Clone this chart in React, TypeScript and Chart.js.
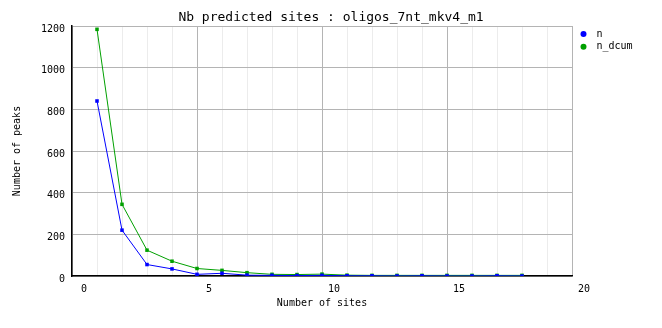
import React, { useEffect, useRef } from "react";
import { Chart, registerables } from "chart.js";

Chart.register(...registerables);

const sites = [1, 2, 3, 4, 5, 6, 7, 8, 9, 10, 11, 12, 13, 14, 15, 16, 17, 18];
const nValues = [840, 220, 55, 34, 8, 13, 4, 3, 2, 3, 1, 1, 0, 1, 0, 0, 1, 0];
const nDcumValues = [1184, 344, 124, 71, 36, 27, 16, 8, 7, 9, 4, 3, 3, 3, 3, 3, 3, 3];
const seriesNames = ["n", "n_dcum"];
const seriesColors = ["#0000ff", "#00a000"];
const titleText = "Nb predicted sites : oligos_7nt_mkv4_m1";
const xTitle = "Number of sites";
const yTitle = "Number of peaks";

const MONO = "'DejaVu Sans Mono', monospace";

export default function App() {
  const ref = useRef<HTMLCanvasElement | null>(null);

  useEffect(() => {
    document.body.style.margin = "0";
    const canvas = ref.current;
    if (!canvas) return;

    const overlayPlugin = {
      id: "overlay",
      afterDraw(chart: any) {
        const { ctx, chartArea, width } = chart;
        ctx.save();
        // title
        ctx.font = `13px ${MONO}`;
        ctx.fillStyle = "#000";
        ctx.textAlign = "center";
        ctx.textBaseline = "middle";
        ctx.fillText(titleText, width / 2, 18);
        // legend
        ctx.font = `10px ${MONO}`;
        ctx.textBaseline = "middle";
        ctx.textAlign = "left";
        seriesNames.forEach((name, i) => {
          const y = chartArea.top + 8 + i * 12.7;
          const x = chartArea.right + 11.5;
          ctx.fillStyle = seriesColors[i];
          ctx.beginPath();
          ctx.arc(x, y, 3, 0, Math.PI * 2);
          ctx.fill();
          ctx.fillStyle = "#000";
          ctx.fillText(name, x + 13, y);
        });
        ctx.restore();
      },
    };

    const chart = new Chart(canvas, {
      type: "line",
      data: {
        datasets: [
          {
            label: seriesNames[0],
            data: sites.map((x, i) => ({ x, y: nValues[i] })),
            borderColor: seriesColors[0],
            backgroundColor: seriesColors[0],
            borderWidth: 1,
            pointStyle: "rect",
            pointRadius: 2.5,
            pointBorderWidth: 0,
            tension: 0,
          },
          {
            label: seriesNames[1],
            data: sites.map((x, i) => ({ x, y: nDcumValues[i] })),
            borderColor: seriesColors[1],
            backgroundColor: seriesColors[1],
            borderWidth: 1,
            pointStyle: "rect",
            pointRadius: 2.5,
            pointBorderWidth: 0,
            tension: 0,
          },
        ],
      },
      options: {
        responsive: false,
        animation: false,
        layout: { padding: { left: 0, right: 90, top: 26, bottom: 0 } },
        plugins: {
          legend: { display: false },
          tooltip: { enabled: false },
          title: { display: false },
        },
        scales: {
          x: {
            type: "linear",
            min: 0,
            max: 20,
            afterFit(scale: any) {
              scale.height = 52;
            },
            ticks: {
              stepSize: 1,
              autoSkip: false,
              maxRotation: 0,
              color: "#000",
              font: { family: MONO, size: 10 },
              padding: 7,
              labelOffset: 12,
              callback: (v: any) => (Number(v) % 5 === 0 ? String(v) : ""),
            },
            grid: {
              drawTicks: false,
              color: (c: any) => (c.tick && c.tick.value % 5 === 0 ? "#b4b4b4" : "#ececec"),
              lineWidth: 1,
            },
            border: { color: "#000", width: 1.5 },
            title: {
              display: true,
              text: xTitle,
              color: "#000",
              font: { family: MONO, size: 10 },
              padding: { top: 0, bottom: 19 },
            },
          },
          y: {
            min: 0,
            max: 1200,
            afterFit(scale: any) {
              scale.width = 72;
            },
            ticks: {
              stepSize: 200,
              color: "#000",
              font: { family: MONO, size: 10 },
              padding: 7,
              labelOffset: 3,
              callback: (v: any) => String(v),
            },
            grid: {
              drawTicks: false,
              color: "#b4b4b4",
              lineWidth: 1,
            },
            border: { color: "#000", width: 1.5 },
            title: {
              display: true,
              text: yTitle,
              color: "#000",
              font: { family: MONO, size: 10 },
              padding: { top: 11, bottom: 0 },
            },
          },
        },
      },
      plugins: [overlayPlugin],
    } as any);

    return () => chart.destroy();
  }, []);

  return <canvas ref={ref} width={662} height={328} style={{ display: "block" }} />;
}
